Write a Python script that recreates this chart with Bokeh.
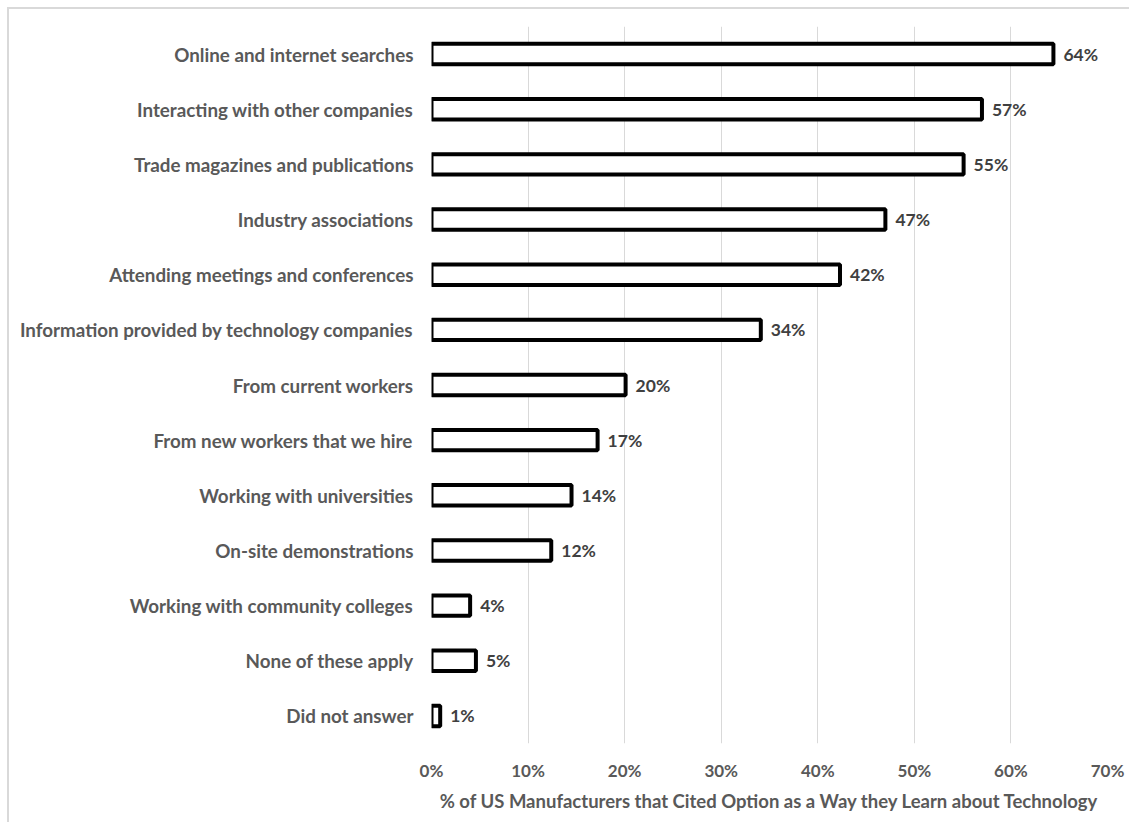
from bokeh.plotting import figure
from bokeh.models import FactorRange, ColumnDataSource, FixedTicker, CustomJSTickFormatter
from bokeh.core.properties import value
from bokeh.embed import file_html
from bokeh.resources import INLINE

categories = [
    "Online and internet searches",
    "Interacting with other companies",
    "Trade magazines and publications",
    "Industry associations",
    "Attending meetings and conferences",
    "Information provided by technology companies",
    "From current workers",
    "From new workers that we hire",
    "Working with universities",
    "On-site demonstrations",
    "Working with community colleges",
    "None of these apply",
    "Did not answer",
]
values = [64.4, 57.0, 55.1, 47.0, 42.3, 34.1, 20.1, 17.2, 14.5, 12.4, 4.0, 4.6, 0.9]
value_labels = ["64%", "57%", "55%", "47%", "42%", "34%", "20%", "17%", "14%", "12%", "4%", "5%", "1%"]
x_ticks = [0, 10, 20, 30, 40, 50, 60, 70]
x_title = "% of US Manufacturers that Cited Option as a Way they Learn about Technology"

FONT = "Lato"
GREY = "#595959"

src = ColumnDataSource(dict(cat=categories, val=values, lab=value_labels))

p = figure(
    width=1122, height=815,
    y_range=FactorRange(factors=list(reversed(categories))),
    x_range=(0, 70),
    output_backend="svg", toolbar_location=None,
    min_border_left=422, min_border_right=24, min_border_top=17, min_border_bottom=81,
    styles={"margin-left": "7px", "margin-top": "7px",
            "border-left": "2px solid #d9d9d9", "border-top": "2px solid #d9d9d9"},
)

p.hbar(y="cat", right="val", left=0, height=0.37, source=src,
       fill_color="white", line_color="black", line_width=4)
p.text(x="val", y="cat", text="lab", source=src, x_offset=10,
       text_baseline="middle", text_align="left",
       text_font=value(FONT), text_font_style="bold", text_font_size="17.5px",
       text_color="#404040")

p.outline_line_color = None
p.ygrid.grid_line_color = None
p.xgrid.grid_line_color = "#d9d9d9"
p.xgrid.grid_line_width = 1
p.xaxis.ticker = FixedTicker(ticks=x_ticks)
p.xaxis.formatter = CustomJSTickFormatter(code="return tick + '%';")

for ax in (p.xaxis, p.yaxis):
    ax.axis_line_color = None
    ax.major_tick_line_color = None
    ax.minor_tick_line_color = None
    ax.major_label_text_font = FONT
    ax.major_label_text_font_style = "bold"
    ax.major_label_text_color = GREY

p.yaxis.major_label_text_font_size = "18.8px"
p.xaxis.major_label_text_font_size = "17px"
p.yaxis.major_label_standoff = 12
p.xaxis.major_label_standoff = 10
p.xaxis.axis_label = x_title
p.xaxis.axis_label_text_font = FONT
p.xaxis.axis_label_text_font_style = "bold"
p.xaxis.axis_label_text_font_size = "18.5px"
p.xaxis.axis_label_text_color = GREY
p.xaxis.axis_label_standoff = 6

open("out.html", "w").write(file_html(p, INLINE))
